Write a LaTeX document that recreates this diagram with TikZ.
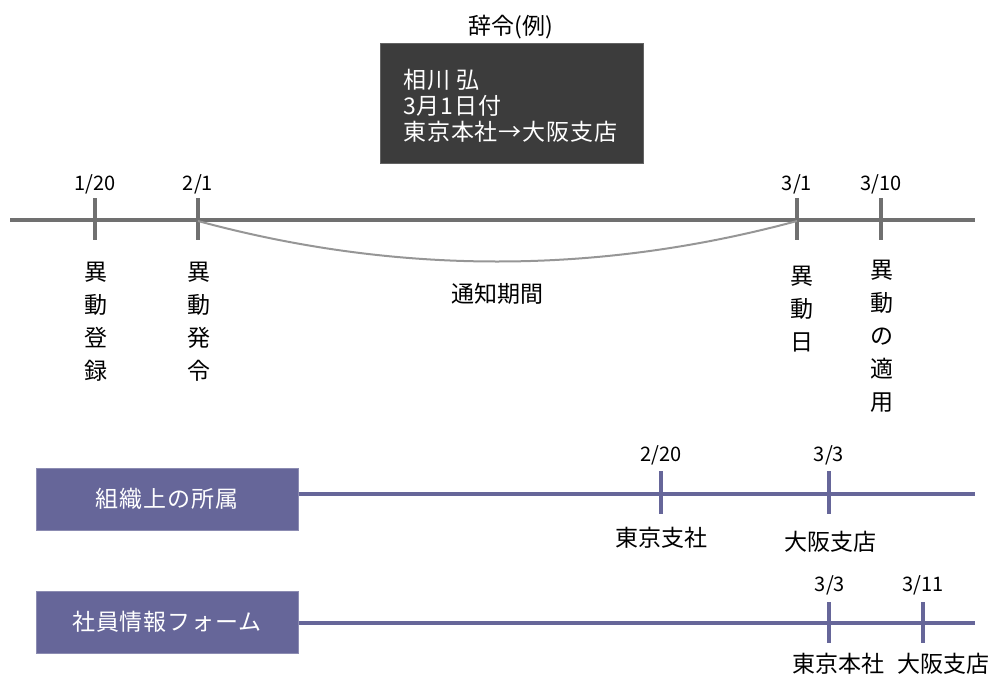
\documentclass[tikz,border=0pt]{standalone}
\usepackage{fontspec}
\setmainfont{Noto Sans CJK JP}
\newfontfamily\jpwide{Noto Sans CJK JP}[LetterSpace=4]
\definecolor{tlgray}{RGB}{112,112,112}
\definecolor{curvegray}{RGB}{150,150,150}
\definecolor{pur}{RGB}{102,102,153}
\definecolor{boxdark}{RGB}{60,60,60}
\begin{document}
\begin{tikzpicture}[x=1pt,y=-1pt,
  tl/.style={line width=4pt, draw=tlgray},
  pl/.style={line width=4pt, draw=pur},
  curvel/.style={line width=2pt, draw=curvegray},
  date/.style={font=\fontsize{20}{24}\selectfont, inner sep=0pt},
  vlab/.style={font=\fontsize{23}{33}\selectfont, align=center, anchor=north, inner sep=0pt},
  lab/.style={font=\fontsize{23}{26}\selectfont, inner sep=0pt},
  pbox/.style={fill=pur, draw=pur!75!white, line width=1pt, minimum width=262pt, minimum height=62pt, inner sep=0pt, text=white, font=\jpwide\fontsize{23}{26}\selectfont},
  dbox/.style={fill=boxdark, draw=boxdark!80!white, line width=1pt, minimum width=263pt, minimum height=120pt, inner sep=0pt},
  dtext/.style={align=left, text=white, inner sep=0pt, anchor=west, font=\jpwide\fontsize{23}{26}\selectfont}
]
\useasboundingbox (0,0) rectangle (995,688);

% title and example box
\node[lab] (title) at (511,27) {辞令(例)};
\node[dbox] (ex) at (511.5,103) {};
\node[dtext] (ext) at (403,106) {相川\ 弘\\3月1日付\\東京本社→大阪支店};

% main timeline
\coordinate (L0) at (10,220);
\coordinate (L1) at (975,220);
\draw[tl] (L0) -- (L1);
\coordinate (t1) at (95,220);
\coordinate (t2) at (198,220);
\coordinate (t3) at (797,220);
\coordinate (t4) at (881,220);
\foreach \t in {t1,t2,t3,t4}{
  \draw[tl] ([yshift=22pt]\t) -- ([yshift=-20pt]\t);
}
\node[date] (d1) at (95,184) {1/20};
\node[date] (d2) at (198,184) {2/1};
\node[date] (d3) at (797,184) {3/1};
\node[date] (d4) at (881,184) {3/10};

\node[vlab] (v1) at (96,262) {異\\動\\登\\録};
\node[vlab] (v2) at (199,262) {異\\動\\発\\令};
\node[vlab] (v3) at (802,266) {異\\動\\日};
\node[vlab] (v4) at (882,260) {異\\動\\の\\適\\用};

% notice period curve
\draw[curvel] ([yshift=-1pt]t2) .. controls (397,275) and (597,275) .. ([yshift=-1pt]t3);
\node[lab] (np) at (497,294) {通知期間};

% row 1
\node[pbox] (b1) at (167,499) {組織上の所属};
\coordinate (e1) at (975,494);
\draw[pl] (b1.east |- e1) -- (e1);
\coordinate (r1a) at (661,494);
\coordinate (r1b) at (829,494);
\draw[pl] ([yshift=23pt]r1a) -- ([yshift=-20pt]r1a);
\draw[pl] ([yshift=23pt]r1b) -- ([yshift=-20pt]r1b);
\node[date] (r1da) at (661,455) {2/20};
\node[date] (r1db) at (829,455) {3/3};
\node[lab] (r1la) at (661,538) {東京支社};
\node[lab] (r1lb) at (830,542) {大阪支店};

% row 2
\node[pbox] (b2) at (167,622) {社員情報フォーム};
\coordinate (e2) at (975,623);
\draw[pl] (b2.east |- e2) -- (e2);
\coordinate (r2a) at (829,623);
\coordinate (r2b) at (923,623);
\draw[pl] ([yshift=21pt]r2a) -- ([yshift=-20pt]r2a);
\draw[pl] ([yshift=21pt]r2b) -- ([yshift=-20pt]r2b);
\node[date] (r2da) at (830,585) {3/3};
\node[date] (r2db) at (923,585) {3/11};
\node[lab] (r2la) at (838,664) {東京本社};
\node[lab] (r2lb) at (943,664) {大阪支店};
\end{tikzpicture}
\end{document}
